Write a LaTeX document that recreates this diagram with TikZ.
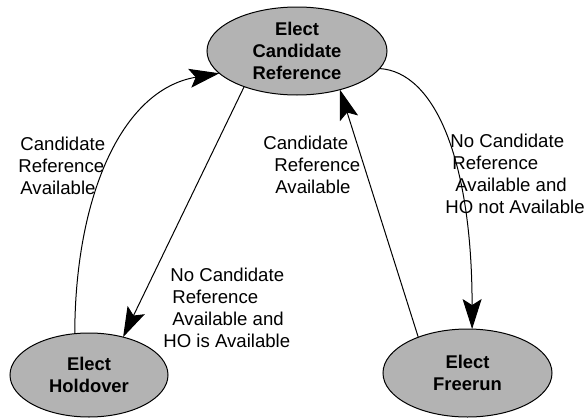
\documentclass[tikz,border=0pt]{standalone}
\usepackage{fontspec}
\setmainfont{Liberation Sans}
\usetikzlibrary{shapes.geometric,arrows.meta}
\begin{document}
\begin{tikzpicture}[x=0.5pt,y=-0.5pt,
  state/.style={ellipse,draw=black,line width=0.5pt,fill=stategray,inner sep=0pt,outer sep=0pt,
    align=center,font=\fontsize{9.2}{11}\selectfont\bfseries},
  lbl/.style={inner sep=0pt,anchor=west,align=left,font=\fontsize{9.3}{11}\selectfont},
  conn/.style={line width=0.5pt,-{Stealth[length=15pt,width=9.5pt,inset=3pt]}}]
\definecolor{stategray}{RGB}{179,179,179}
\useasboundingbox (0,0) rectangle (585,418);
\node[state,minimum width=90pt,minimum height=44pt] (cand) at (297,51) {Elect\\Candidate\\Reference};
\node[state,minimum width=79pt,minimum height=42pt] (hold) at (89,375) {Elect\\Holdover};
\node[state,minimum width=84.5pt,minimum height=44pt] (free) at (467.5,373) {Elect\\Freerun};
\draw[conn] (hold.109) .. controls (75,200) and (120,90) .. (cand.196);
\draw[conn] (cand.214) -- (hold.48);
\draw[conn] (free.144) -- (cand.318);
\draw[conn] (cand.348) .. controls (435,72) and (472,160) .. (free.84);
\node[lbl] (l1) at (18,166) {\hspace{1pt}Candidate\\Reference\\\hspace{1pt}Available};
\node[lbl] (l2) at (163,308) {\hspace{3.5pt}No Candidate\\\hspace{4.5pt}Reference\\\hspace{4.5pt}Available and\\HO is Available};
\node[lbl] (l3) at (263,165) {Candidate\\\hspace{5.5pt}Reference\\\hspace{6pt}Available};
\node[lbl] (l4) at (445,174) {\hspace{2.5pt}No Candidate\\\hspace{3.5pt}Reference\\\hspace{5pt}Available and\\HO not Available};
\end{tikzpicture}
\end{document}
